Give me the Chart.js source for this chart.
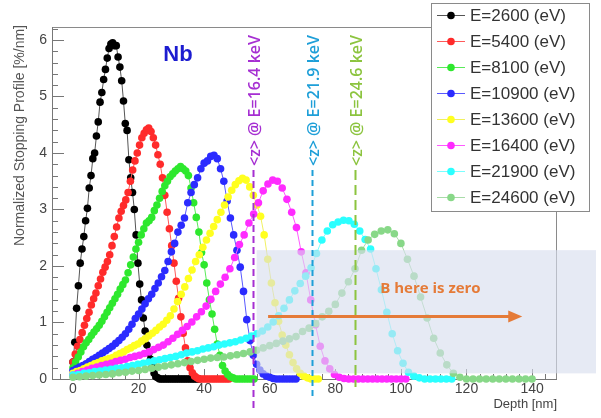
<!DOCTYPE html>
<html>
<head>
<meta charset="utf-8">
<script src="https://cdn.jsdelivr.net/npm/chart.js@4.4.0/dist/chart.umd.min.js"></script>
<style>
  html, body { margin: 0; padding: 0; background: #fff; }
  #wrap { width: 601px; height: 418px; }
</style>
</head>
<body>
<div id="wrap"><canvas id="c" width="601" height="418"></canvas></div>
<script>
const energies = [2600, 5400, 8100, 10900, 13600, 16400, 21900, 24600];
const colors = ['#000000', '#ff2b2b', '#2ee82e', '#2b2bff', '#ffff1f', '#ff2bff', '#2bffff', '#88d888'];
const lineColors = ['#555555', '#ff5a5a', '#5aea5a', '#5a5aff', '#f0f060', '#ff5aff', '#7affff', '#a8dca8'];
// depth bin width [nm] of each profile, first bin at 0
const binWidth = [0.55, 0.7, 0.8, 1.0, 1.1, 1.45, 1.65, 2.0];

const profile2600 = [0.3, 0.65, 1.25, 1.65, 2.05, 2.3, 2.52, 2.8, 3.02, 3.38,
  3.6, 3.9, 4.0, 4.3, 4.55, 4.9, 5.07, 5.3, 5.48, 5.68,
  5.85, 5.93, 5.95, 5.9, 5.9, 5.7, 5.52, 5.28, 4.92, 4.52,
  4.4, 3.88, 3.56, 3.3, 3.0, 2.55, 2.05, 1.68, 1.4, 1.08,
  0.85, 0.6, 0.46, 0.35, 0.22, 0.1, 0.04, 0.02,
  0, 0, 0, 0, 0, 0, 0, 0, 0, 0, 0, 0, 0, 0, 0, 0, 0, 0, 0, 0, 0, 0, 0];
const profile5400 = [0.3, 0.44, 0.58, 0.7, 0.82, 0.95, 1.07, 1.18, 1.31, 1.42,
  1.52, 1.65, 1.77, 1.89, 1.98, 2.08, 2.2, 2.36, 2.52, 2.69,
  2.85, 2.97, 3.07, 3.17, 3.3, 3.5, 3.7, 3.86, 4.0, 4.14,
  4.27, 4.35, 4.41, 4.44, 4.38, 4.27, 4.14, 3.97, 3.8, 3.56,
  3.25, 2.95, 2.66, 2.36, 2.05, 1.73, 1.43, 1.1, 0.81, 0.55,
  0.32, 0.2, 0.11, 0.05, 0.02,
  0, 0, 0, 0, 0, 0, 0, 0, 0, 0, 0, 0, 0, 0];
const profile8100 = [0.2, 0.3, 0.39, 0.48, 0.57, 0.64, 0.7, 0.77, 0.83, 0.89,
  0.95, 1.02, 1.1, 1.18, 1.26, 1.34, 1.42, 1.5, 1.59, 1.67,
  1.75, 1.88, 2.02, 2.16, 2.3, 2.42, 2.55, 2.66, 2.76, 2.8,
  2.86, 2.98, 3.08, 3.2, 3.32, 3.42, 3.5, 3.58, 3.63, 3.68,
  3.72, 3.76, 3.72, 3.68, 3.6, 3.38, 3.12, 2.86, 2.6, 2.24,
  2.02, 1.7, 1.4, 1.15, 0.88, 0.62, 0.42, 0.24, 0.14, 0.08,
  0.04, 0.02,
  0, 0, 0, 0, 0, 0, 0, 0];
const profile10900 = [0.15, 0.18, 0.21, 0.24, 0.27, 0.31, 0.35, 0.38, 0.42, 0.46,
  0.5, 0.54, 0.58, 0.63, 0.68, 0.74, 0.8, 0.88, 0.97, 1.07,
  1.15, 1.24, 1.33, 1.42, 1.5, 1.6, 1.7, 1.81, 1.92, 2.08,
  2.25, 2.4, 2.6, 2.72, 2.85, 3.12, 3.3, 3.44, 3.56, 3.72,
  3.82, 3.86, 3.94, 3.96, 3.9, 3.72, 3.5, 3.15, 2.85, 2.55,
  2.28, 1.98, 1.55, 1.05, 0.68, 0.42, 0.26, 0.16, 0.09, 0.05,
  0.03, 0.01,
  0, 0, 0, 0, 0, 0, 0];
const profile13600 = [0.1, 0.13, 0.15, 0.18, 0.21, 0.24, 0.27, 0.29, 0.32, 0.34,
  0.36, 0.38, 0.42, 0.45, 0.48, 0.52, 0.55, 0.59, 0.62, 0.67,
  0.71, 0.76, 0.81, 0.86, 0.92, 0.97, 1.04, 1.12, 1.24, 1.37,
  1.5, 1.63, 1.78, 1.93, 2.08, 2.2, 2.33, 2.46, 2.58, 2.7,
  2.82, 2.95, 3.08, 3.22, 3.34, 3.44, 3.51, 3.55, 3.52, 3.4,
  3.25, 3.08, 2.88, 2.55, 2.12, 1.7, 1.35, 1.02, 0.78, 0.6,
  0.43, 0.29, 0.18, 0.1, 0.05, 0.02,
  0, 0, 0];
const profile16400 = [0.07, 0.1, 0.13, 0.16, 0.19, 0.21, 0.24, 0.26, 0.28, 0.31,
  0.33, 0.35, 0.38, 0.4, 0.42, 0.45, 0.48, 0.52, 0.56, 0.6,
  0.66, 0.72, 0.79, 0.86, 0.93, 1.01, 1.1, 1.19, 1.29, 1.41,
  1.55, 1.68, 1.8, 1.95, 2.15, 2.38, 2.55, 2.76, 2.92, 3.12,
  3.33, 3.45, 3.52, 3.5, 3.38, 3.18, 2.95, 2.68, 2.25, 1.88,
  1.4, 0.96, 0.58, 0.32, 0.18, 0.08, 0.03, 0.01,
  0, 0, 0, 0, 0, 0, 0, 0, 0, 0, 0, 0, 0];
const profile21900 = [0.07, 0.08, 0.1, 0.11, 0.13, 0.14, 0.16, 0.17, 0.19, 0.2,
  0.22, 0.24, 0.26, 0.28, 0.3, 0.32, 0.34, 0.36, 0.38, 0.4,
  0.43, 0.46, 0.48, 0.5, 0.53, 0.55, 0.57, 0.6, 0.62, 0.64,
  0.66, 0.69, 0.72, 0.76, 0.8, 0.85, 0.92, 1.01, 1.12, 1.25,
  1.4, 1.56, 1.69, 1.82, 1.97, 2.22, 2.46, 2.62, 2.73, 2.78,
  2.81, 2.8, 2.74, 2.62, 2.47, 2.3, 1.95, 1.58, 1.18, 0.8,
  0.5, 0.28, 0.12, 0.05, 0.02,
  0, 0, 0, 0, 0, 0];
const profile24600 = [0.03, 0.04, 0.05, 0.06, 0.07, 0.08, 0.09, 0.11, 0.12, 0.14,
  0.15, 0.17, 0.19, 0.21, 0.23, 0.25, 0.27, 0.29, 0.31, 0.33,
  0.35, 0.37, 0.38, 0.39, 0.41, 0.43, 0.45, 0.48, 0.51, 0.55,
  0.59, 0.63, 0.67, 0.71, 0.75, 0.84, 0.9, 0.98, 1.1, 1.2,
  1.32, 1.52, 1.72, 1.95, 2.28, 2.46, 2.56, 2.62, 2.64, 2.57,
  2.4, 2.12, 1.82, 1.45, 1.08, 0.72, 0.46, 0.25, 0.1, 0.03,
  0, 0, 0, 0, 0, 0, 0, 0, 0, 0, 0];
const profiles = [profile2600, profile5400, profile8100, profile10900,
  profile13600, profile16400, profile21900, profile24600];

const yTicks = [0, 1, 2, 3, 4, 5, 6];
const xTicks = [0, 20, 40, 60, 80, 100, 120, 140];
const xTitle = 'Depth [nm]';
const yTitle = 'Normalized Stopping Profile [%/nm]';

// mean implantation depth <z> markers
const meanDepth = [55.0, 72.8, 86.0];
const meanText = ['<z> @ E=16.4 keV', '<z> @ E=21.9 keV', '<z> @ E=24.6 keV'];
const meanColor = ['#a62fd2', '#1e9fd8', '#8cc43f'];
const meanLineEnd = [410, 397, 387];
const meanDash = [[7, 4], [6, 4], [10, 5]];

const X_MIN = -6.4, X_MAX = 147.6, Y_MIN = 0, Y_MAX = 6.23;
const FONT = '"Liberation Sans", Arial, sans-serif';

const datasets = profiles.map((vals, i) => ({
  label: `E=${energies[i]} (eV)`,
  data: vals.map((v, k) => ({ x: +(k * binWidth[i]).toFixed(3), y: v })),
  borderColor: lineColors[i],
  backgroundColor: colors[i],
  pointBackgroundColor: colors[i],
  pointBorderWidth: 0,
  pointRadius: 3.8,
  borderWidth: 1,
  tension: 0,
  clip: false,
  order: profiles.length - i
}));

const frame = {
  id: 'frame',
  beforeDatasetsDraw(chart) {
    const { ctx, chartArea: a, scales: { x, y } } = chart;
    ctx.save();
    ctx.lineWidth = 1;
    ctx.strokeStyle = '#8a8a8a';
    ctx.strokeRect(a.left + 0.5, a.top + 0.5, a.right - a.left - 1, a.bottom - a.top);
    ctx.strokeStyle = '#777';
    ctx.beginPath();
    ctx.moveTo(a.left + 0.5, a.top); ctx.lineTo(a.left + 0.5, a.bottom + 0.5);
    ctx.lineTo(a.right, a.bottom + 0.5);
    // y ticks, minor every 0.2
    for (let k = 0; k * 0.2 <= Y_MAX; k++) {
      const py = Math.round(y.getPixelForValue(k * 0.2)) + 0.5;
      const len = k % 5 === 0 ? 12 : 6;
      ctx.moveTo(a.left, py); ctx.lineTo(a.left + len, py);
    }
    // x ticks, minor every 4
    for (let k = -1; k * 4 <= X_MAX; k++) {
      if (k * 4 < X_MIN) continue;
      const px = Math.round(x.getPixelForValue(k * 4)) + 0.5;
      const len = k % 5 === 0 ? 10 : 5;
      ctx.moveTo(px, a.bottom); ctx.lineTo(px, a.bottom - len);
    }
    ctx.stroke();

    // tick labels and titles
    ctx.fillStyle = '#444';
    ctx.font = `14px ${FONT}`;
    ctx.textBaseline = 'middle';
    ctx.textAlign = 'right';
    y.ticks.forEach(t => ctx.fillText(String(t.value), a.left - 5, y.getPixelForValue(t.value)));
    ctx.textAlign = 'center';
    x.ticks.forEach(t => ctx.fillText(String(t.value), x.getPixelForValue(t.value), a.bottom + 10));
    ctx.font = `13px ${FONT}`;
    ctx.textAlign = 'right';
    ctx.fillText(xTitle, a.right, a.bottom + 25);
    ctx.save();
    ctx.translate(20, a.top - 2);
    ctx.rotate(-Math.PI / 2);
    ctx.fillStyle = '#555';
    ctx.font = `14px ${FONT}`;
    ctx.fillText(yTitle, 0, 0);
    ctx.restore();
    ctx.restore();
  },
  afterDatasetsDraw(chart) {
    const { ctx, scales: { x, y } } = chart;
    ctx.save();
    // shaded region where B is zero
    const bx = x.getPixelForValue(56);
    const by = y.getPixelForValue(2.28);
    const bb = y.getPixelForValue(0.1);
    ctx.fillStyle = 'rgba(214,221,238,0.62)';
    ctx.fillRect(bx, by, chart.width - 5 - bx, bb - by);

    // <z> markers
    meanDepth.forEach((d, i) => {
      const px = Math.round(x.getPixelForValue(d)) + 0.5;
      ctx.strokeStyle = meanColor[i];
      ctx.lineWidth = 2;
      ctx.setLineDash(meanDash[i]);
      ctx.beginPath();
      ctx.moveTo(px, 170);
      ctx.lineTo(px, meanLineEnd[i]);
      ctx.stroke();
      ctx.setLineDash([]);
      ctx.save();
      ctx.translate(px + 2, 166);
      ctx.rotate(-Math.PI / 2);
      ctx.fillStyle = meanColor[i];
      ctx.font = '600 16px "Open Sans", sans-serif';
      ctx.textAlign = 'left';
      ctx.textBaseline = 'middle';
      ctx.fillText(meanText[i], 0, 0);
      ctx.restore();
    });

    // arrow
    const ax0 = x.getPixelForValue(59.5);
    const ax1 = x.getPixelForValue(137);
    const ay = Math.round(y.getPixelForValue(1.12)) + 0.5;
    ctx.strokeStyle = '#e57b38';
    ctx.fillStyle = '#e57b38';
    ctx.lineWidth = 3;
    ctx.beginPath();
    ctx.moveTo(ax0, ay); ctx.lineTo(ax1 - 10, ay);
    ctx.stroke();
    ctx.beginPath();
    ctx.moveTo(ax1, ay); ctx.lineTo(ax1 - 14, ay - 6); ctx.lineTo(ax1 - 14, ay + 6);
    ctx.closePath();
    ctx.fill();
    ctx.font = 'bold 15px "Open Sans", sans-serif';
    ctx.textAlign = 'center';
    ctx.textBaseline = 'middle';
    ctx.fillText('B here is zero', x.getPixelForValue(109), y.getPixelForValue(1.6));

    ctx.fillStyle = '#1c1cd0';
    ctx.font = `bold 22px ${FONT}`;
    ctx.fillText('Nb', x.getPixelForValue(32), y.getPixelForValue(5.73));
    ctx.restore();
  },
  afterDraw(chart) {
    const { ctx } = chart;
    const L = 431, T = 3, W = 158, H = 208;
    ctx.save();
    ctx.fillStyle = '#fff';
    ctx.fillRect(L, T, W, H);
    ctx.strokeStyle = '#8a8a8a';
    ctx.lineWidth = 1;
    ctx.strokeRect(L + 0.5, T + 0.5, W, H);
    ctx.font = `17px ${FONT}`;
    ctx.textBaseline = 'middle';
    ctx.textAlign = 'left';
    chart.data.datasets.forEach((ds, i) => {
      const cy = T + 12.5 + i * 26;
      ctx.strokeStyle = ds.borderColor;
      ctx.beginPath();
      ctx.moveTo(L + 6, cy); ctx.lineTo(L + 34, cy);
      ctx.stroke();
      ctx.fillStyle = ds.pointBackgroundColor;
      ctx.beginPath();
      ctx.arc(L + 20, cy, 3.8, 0, Math.PI * 2);
      ctx.fill();
      ctx.fillStyle = '#333';
      ctx.fillText(ds.label, L + 39, cy + 1);
    });
    ctx.restore();
  }
};

Chart.defaults.font.family = FONT;

new Chart(document.getElementById('c'), {
  type: 'line',
  data: { datasets },
  options: {
    responsive: false,
    animation: false,
    devicePixelRatio: 1,
    layout: { padding: { left: 0, top: 27, right: 44, bottom: 0 } },
    plugins: { legend: { display: false }, tooltip: { enabled: false } },
    scales: {
      x: {
        type: 'linear',
        min: X_MIN,
        max: X_MAX,
        grid: { display: false, drawTicks: false },
        border: { display: false },
        afterFit: s => { s.height = 39; },
        afterBuildTicks: s => { s.ticks = xTicks.map(v => ({ value: v })); },
        ticks: { display: false }
      },
      y: {
        type: 'linear',
        min: Y_MIN,
        max: Y_MAX,
        grid: { display: false, drawTicks: false },
        border: { display: false },
        afterFit: s => { s.width = 52; },
        afterBuildTicks: s => { s.ticks = yTicks.map(v => ({ value: v })); },
        ticks: { display: false }
      }
    }
  },
  plugins: [frame]
});
</script>
</body>
</html>
